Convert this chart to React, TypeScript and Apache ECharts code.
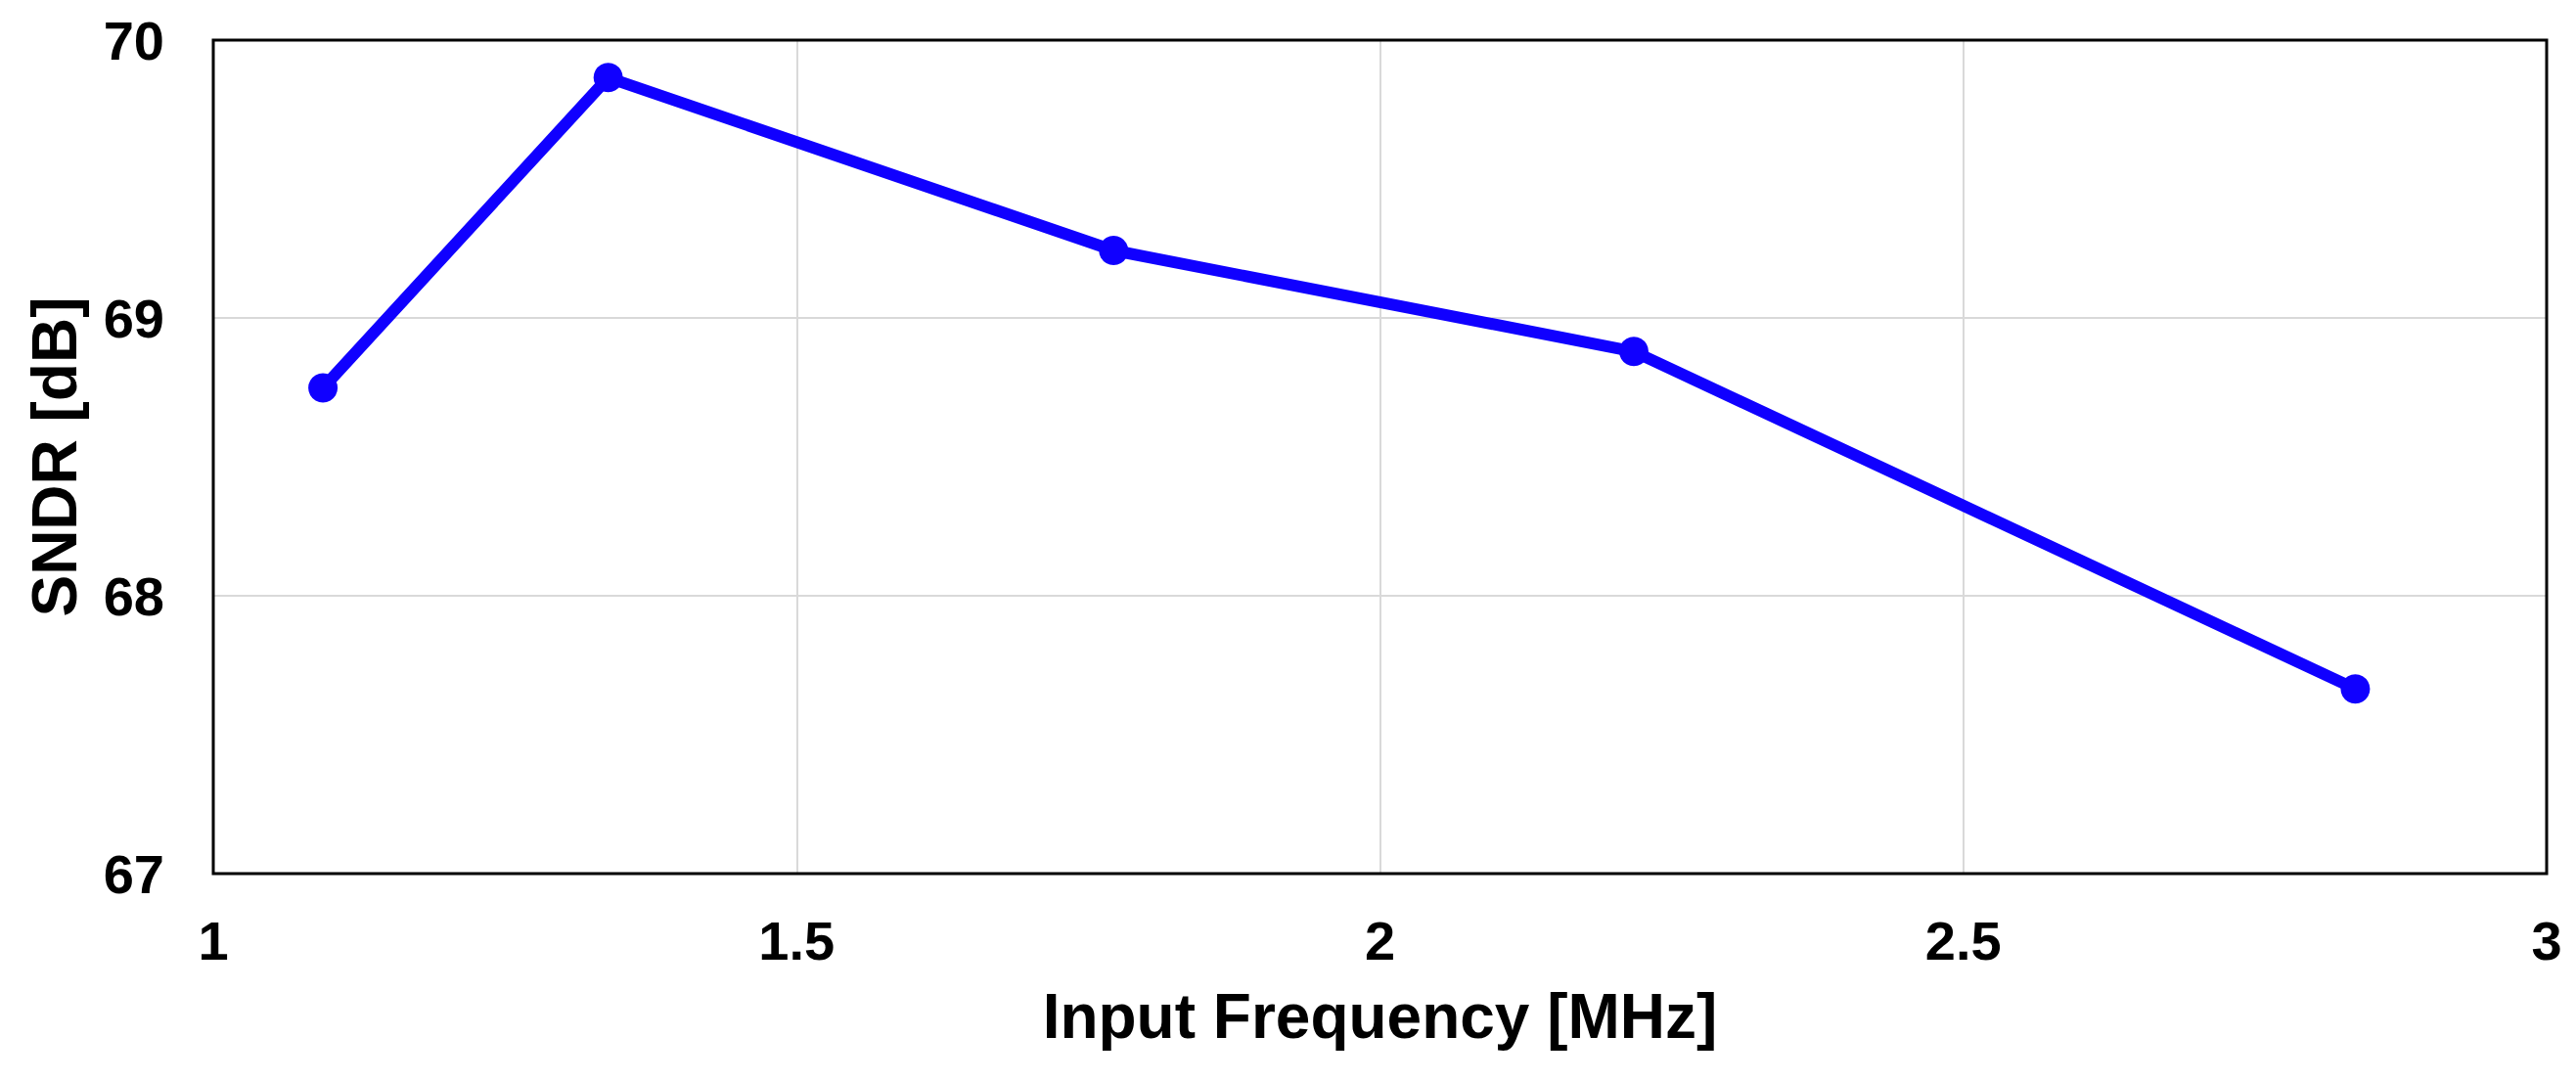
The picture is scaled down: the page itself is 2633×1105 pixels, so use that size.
import React, { useEffect, useRef } from "react";
import * as echarts from "echarts";

const freqMHz = [1.094, 1.3385, 1.7717, 2.2176, 2.836];
const sndrDb = [68.748, 69.865, 69.243, 68.879, 67.665];
const xTicks = { min: 1, max: 3, interval: 0.5 };
const yTicks = { min: 67, max: 70, interval: 1 };
const xTitle = "Input Frequency [MHz]";
const yTitle = "SNDR [dB]";

const FONT = "'Liberation Sans', Arial, Helvetica, sans-serif";

export default function App() {
  const ref = useRef<HTMLDivElement>(null);
  useEffect(() => {
    document.body.style.margin = "0";
    document.body.style.overflow = "hidden";
    if (!ref.current) return;
    const chart = echarts.init(ref.current, null, { renderer: "svg" });
    const data = freqMHz.map((f, i) => [f, sndrDb[i]]);
    chart.setOption({
      animation: false,
      backgroundColor: "#ffffff",
      grid: {
        left: 218,
        right: 30,
        top: 41,
        bottom: 212,
        containLabel: false,
        show: true,
        borderColor: "#000000",
        borderWidth: 3,
        backgroundColor: "transparent",
        z: 5,
      },
      xAxis: {
        type: "value",
        min: xTicks.min,
        max: xTicks.max,
        interval: xTicks.interval,
        name: xTitle,
        nameLocation: "middle",
        nameGap: 114,
        nameTextStyle: { fontFamily: FONT, fontWeight: "bold", fontSize: 64, color: "#000" },
        axisLine: { show: false },
        axisTick: { show: false },
        axisLabel: { fontFamily: FONT, fontWeight: "bold", fontSize: 56, color: "#000", margin: 40 },
        splitLine: { show: true, showMinLine: false, showMaxLine: false, lineStyle: { color: "#d9d9d9", width: 2 } },
      },
      yAxis: {
        type: "value",
        min: yTicks.min,
        max: yTicks.max,
        interval: yTicks.interval,
        name: yTitle,
        nameLocation: "middle",
        nameGap: 130,
        nameTextStyle: { fontFamily: FONT, fontWeight: "bold", fontSize: 64, color: "#000" },
        axisLine: { show: false },
        axisTick: { show: false },
        axisLabel: { fontFamily: FONT, fontWeight: "bold", fontSize: 56, color: "#000", margin: 50 },
        splitLine: { show: true, showMinLine: false, showMaxLine: false, lineStyle: { color: "#d9d9d9", width: 2 } },
      },
      series: [
        {
          type: "line",
          data,
          symbol: "circle",
          symbolSize: 30,
          lineStyle: { color: "#1000ff", width: 12 },
          itemStyle: { color: "#1000ff" },
        },
      ],
    });
    return () => chart.dispose();
  }, []);
  return <div ref={ref} style={{ width: 2633, height: 1105 }} />;
}
